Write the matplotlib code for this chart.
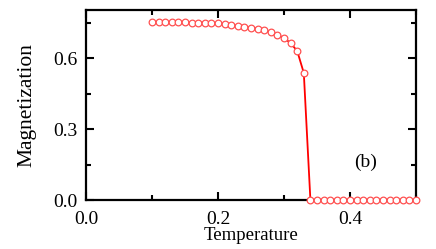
import matplotlib.pyplot as plt
from matplotlib.ticker import MultipleLocator

# magnetization vs temperature
temp = [0.10, 0.11, 0.12, 0.13, 0.14, 0.15, 0.16, 0.17, 0.18, 0.19,
        0.20, 0.21, 0.22, 0.23, 0.24, 0.25, 0.26, 0.27, 0.28, 0.29,
        0.30, 0.31, 0.32, 0.33, 0.34, 0.35, 0.36, 0.37, 0.38, 0.39,
        0.40, 0.41, 0.42, 0.43, 0.44, 0.45, 0.46, 0.47, 0.48, 0.49, 0.50]
magn = [0.752, 0.752, 0.752, 0.751, 0.751, 0.751, 0.750, 0.750, 0.749, 0.748,
        0.746, 0.743, 0.740, 0.736, 0.733, 0.729, 0.724, 0.718, 0.709, 0.698,
        0.685, 0.663, 0.630, 0.537, 0.0, 0.0, 0.0, 0.0, 0.0, 0.0,
        0.0, 0.0, 0.0, 0.0, 0.0, 0.0, 0.0, 0.0, 0.0, 0.0, 0.0]

plt.rcParams['font.family'] = 'Liberation Serif'

fig = plt.figure(figsize=(4.36, 2.49), dpi=100)
ax = fig.add_axes([86 / 436, 1 - 200 / 249, 330 / 436, 190 / 249])

ax.plot(temp, magn, color='red', lw=1.3, zorder=2)
ax.plot(temp, magn, 'o', mfc='white', mec='#ff5050', ms=4.8, mew=0.9, zorder=3,
        clip_on=False)

ax.set_xlim(0, 0.5)
ax.set_ylim(0, 0.803)
ax.xaxis.set_major_locator(MultipleLocator(0.2))
ax.xaxis.set_minor_locator(MultipleLocator(0.1))
ax.yaxis.set_major_locator(MultipleLocator(0.3))
ax.yaxis.set_minor_locator(MultipleLocator(0.15))
ax.xaxis.set_major_formatter('{x:.1f}')
ax.yaxis.set_major_formatter('{x:.1f}')
ax.tick_params(which='both', direction='in', width=1.5, top=True, right=True)
ax.tick_params(which='major', length=5.5, labelsize=14, pad=8)
ax.tick_params(which='minor', length=3.5)
ax.tick_params(axis='y', which='major', pad=6)
for s in ax.spines.values():
    s.set_linewidth(1.6)

ax.set_xlabel('Temperature', fontsize=13.5, labelpad=-1)
ax.set_ylabel('Magnetization', fontsize=15.5, labelpad=12)
ax.text(0.424, 0.16, '(b)', fontsize=14, ha='center', va='center')

fig.savefig('out.png', dpi=100)
